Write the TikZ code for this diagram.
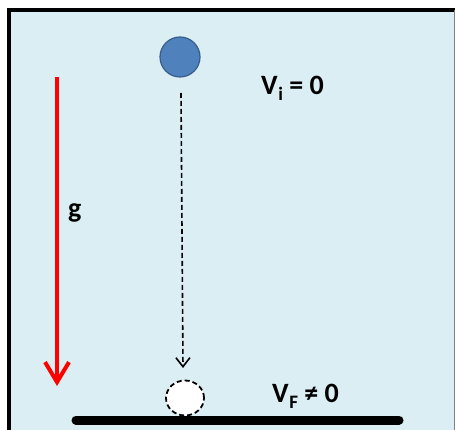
\documentclass[tikz,border=0pt]{standalone}
\usepackage{fontspec}
\setmainfont{Carlito}
\usetikzlibrary{arrows.meta,shapes.geometric}
\definecolor{panel}{HTML}{DBEEF4}
\definecolor{ballblue}{HTML}{4F81BD}
\definecolor{balledge}{HTML}{385D8A}
\begin{document}
\begin{tikzpicture}[x=1pt,y=-1pt]
    \tikzstyle{every node}+=[inner sep=0pt, font=\fontsize{28}{32}\selectfont\bfseries]
    \tikzstyle{falldash}=[dash pattern=on 5pt off 3pt]
    \useasboundingbox (0,0) rectangle (455,430);
    \fill [panel] (9,10) rectangle (455,430);
    \draw [black, line width=3.5] (9,430) -- (9,10) -- (455,10);
    \draw [gray, line width=1] (454,10) -- (454,430);
    \node (ball) [circle, draw=balledge, fill=ballblue, line width=1.2, minimum size=40] at (180,57) {};
    \node (land) [ellipse, draw=black, fill=white, falldash, line width=1.8, minimum width=38, minimum height=35] at (185,398) {};
    \coordinate (drop) at (181,93);
    \coordinate (hit) at (183,368);
    \draw [black, falldash, line width=1.6, -{Straight Barb[length=9,width=14]}] (drop) -- (hit);
    \coordinate (gtop) at (57,77);
    \coordinate (gbot) at (57,386);
    \draw [red, line width=4, -{Straight Barb[length=20,width=24]}] (gtop) -- (gbot);
    \node (glabel) [anchor=west] at (68,213) {g};
    \node (vi) [anchor=west] at (261,88) {V\kern0.5pt\raisebox{-6pt}{\fontsize{19}{19}\selectfont i} = 0};
    \node (vf) [anchor=west] at (272,396) {V\kern0.5pt\raisebox{-6pt}{\fontsize{19}{19}\selectfont F} ≠ 0};
    \coordinate (gl) at (76,420);
    \coordinate (gr) at (399,420);
    \draw [black, line width=9, line cap=round] (gl) -- (gr);
\end{tikzpicture}
\end{document}
